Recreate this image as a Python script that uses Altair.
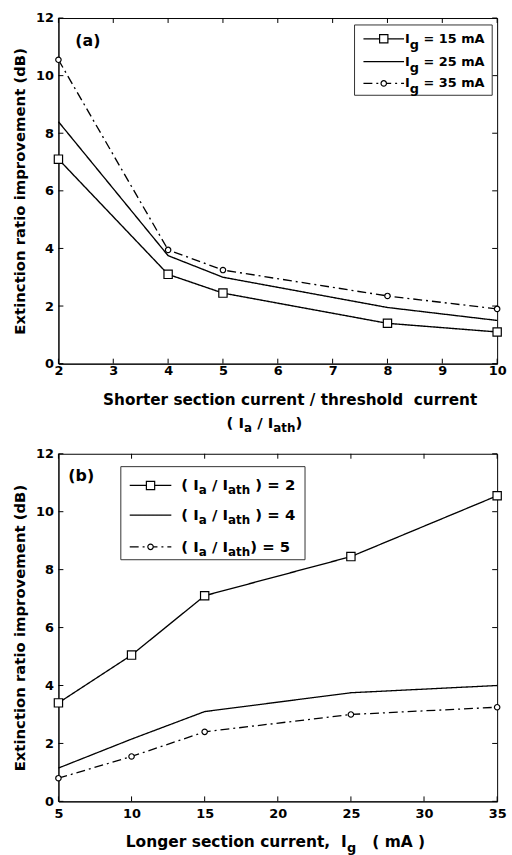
import altair as alt
import pandas as pd

# ---------------- data ----------------
# (a) extinction ratio improvement vs Ia/Iath for three Ig values
ratio_x = [2, 4, 5, 8, 10]
er_ig15 = [7.1, 3.1, 2.45, 1.4, 1.1]
er_ig25 = [8.4, 3.75, 3.0, 1.95, 1.5]
er_ig35 = [10.55, 3.95, 3.25, 2.35, 1.9]

# (b) extinction ratio improvement vs Ig for three Ia/Iath values
ig_x = [5, 10, 15, 25, 35]
er_r2 = [3.4, 5.05, 7.1, 8.45, 10.55]
er_r4 = [1.15, 2.15, 3.1, 3.75, 4.0]
er_r5 = [0.8, 1.55, 2.4, 3.0, 3.25]

ticks_a_x = [2, 3, 4, 5, 6, 7, 8, 9, 10]
ticks_b_x = [5, 10, 15, 20, 25, 30, 35]
ticks_y = [0, 2, 4, 6, 8, 10, 12]

FONT = "DejaVu Sans"
W_A, H_A = 443, 349
W_B, H_B = 443, 351
SPACES = " \u00a0"

# approximate advance widths (em) of DejaVu Sans Bold, used to lay out
# labels that contain subscripts
ADV = {" ": 0.348, "\u00a0": 0.348, "(": 0.457, ")": 0.457, "/": 0.365,
       "=": 0.838, ",": 0.380, "I": 0.372, "a": 0.675, "t": 0.478,
       "h": 0.712, "g": 0.716, "m": 1.042, "A": 0.774, "L": 0.637,
       "o": 0.687, "n": 0.712, "e": 0.678, "r": 0.493, "s": 0.595,
       "c": 0.593, "i": 0.343, "u": 0.712, "S": 0.720, "d": 0.716,
       "l": 0.343}
for d in "0123456789":
    ADV[d] = 0.696


def text_width(s, size):
    return sum(ADV.get(ch, 0.6) for ch in s) * size


def rich(pieces, x0, y0, size, sub_size, sub_dy):
    """pieces: list of (text, is_subscript); returns rows for a text layer.
    Leading blanks are turned into an x advance, since they are not drawn."""
    rows, x = [], x0
    for txt, sub in pieces:
        sz = sub_size if sub else size
        body = txt.lstrip(SPACES)
        x += text_width(txt[: len(txt) - len(body)], sz)
        rows.append({"txt": body, "px": x, "py": y0 + (sub_dy if sub else 0), "fs": sz})
        x += text_width(body, sz)
    return rows


def rich_width(pieces, size, sub_size):
    return sum(text_width(t, sub_size if s else size) for t, s in pieces)


def text_layer(rows):
    return alt.Chart(pd.DataFrame(rows)).mark_text(
        align="left", baseline="middle", font=FONT, fontWeight="bold", color="black"
    ).encode(
        x=alt.X("px:Q", scale=None, axis=None),
        y=alt.Y("py:Q", scale=None, axis=None),
        text="txt:N",
        size=alt.Size("fs:Q", scale=None, legend=None),
    )


def make_panel(xvals, series, names, dashes, widths, markers, xdom, xticks,
               W, H, ytitle, xlabel_pad, tag, tag_xy, legend_box, legend_rows,
               legend_x, extra_text):
    recs = []
    for name, ys in zip(names, series):
        for xv, yv in zip(xvals, ys):
            recs.append({"x": xv, "y": yv, "s": name})
    df = pd.DataFrame(recs)

    xaxis = alt.Axis(values=xticks, title=None, labelFlush=False,
                     labelOverlap=False, labelPadding=xlabel_pad)
    yaxis = alt.Axis(values=ticks_y, title=ytitle, labelOverlap=False)
    xs = alt.Scale(domain=xdom, nice=False, zero=False)
    ys = alt.Scale(domain=[0, 12], nice=False, zero=False)

    def X(f):
        return alt.X(f, scale=xs, axis=xaxis)

    def Y(f):
        return alt.Y(f, scale=ys, axis=yaxis)

    dash_scale = alt.Scale(domain=names, range=dashes)
    width_scale = alt.Scale(domain=names, range=widths)

    base = alt.Chart(df)
    lines = base.mark_line(color="black").encode(
        x=X("x:Q"), y=Y("y:Q"),
        detail="s:N",
        strokeDash=alt.StrokeDash("s:N", scale=dash_scale, legend=None),
        strokeWidth=alt.StrokeWidth("s:N", scale=width_scale, legend=None),
    )
    layers = [lines]
    for name, mk in zip(names, markers):
        if mk is None:
            continue
        shape, size = mk
        layers.append(
            base.transform_filter(alt.datum.s == name)
            .mark_point(shape=shape, size=size, filled=True, fill="white",
                        stroke="black", strokeWidth=1.2, opacity=1)
            .encode(x=X("x:Q"), y=Y("y:Q"))
        )

    # inward ticks on all four sides
    tx = alt.Chart(pd.DataFrame({"t": xticks}))
    ty = alt.Chart(pd.DataFrame({"t": ticks_y}))
    rule = dict(color="black", strokeWidth=1)
    layers += [
        tx.mark_rule(**rule).encode(x=X("t:Q"), y=alt.value(H), y2=alt.value(H - 5)),
        tx.mark_rule(**rule).encode(x=X("t:Q"), y=alt.value(0), y2=alt.value(5)),
        ty.mark_rule(**rule).encode(y=Y("t:Q"), x=alt.value(0), x2=alt.value(5)),
        ty.mark_rule(**rule).encode(y=Y("t:Q"), x=alt.value(W), x2=alt.value(W - 5)),
    ]

    # legend box
    bx0, by0, bx1, by1 = legend_box
    layers.append(
        alt.Chart(pd.DataFrame({"a": [0]})).mark_rect(
            fill="white", stroke="#333333", strokeWidth=1
        ).encode(x=alt.value(bx0), x2=alt.value(bx1), y=alt.value(by0), y2=alt.value(by1))
    )
    lx0, lx1 = legend_x
    leg = pd.DataFrame({
        "s": names,
        "x0": [lx0] * len(names),
        "x1": [lx1] * len(names),
        "xm": [(lx0 + lx1) / 2] * len(names),
        "yy": [r[0] for r in legend_rows],
    })
    lb = alt.Chart(leg)
    layers.append(
        lb.mark_rule(color="black").encode(
            x=alt.X("x0:Q", scale=None, axis=None),
            x2="x1:Q",
            y=alt.Y("yy:Q", scale=None, axis=None),
            strokeDash=alt.StrokeDash("s:N", scale=dash_scale, legend=None),
            strokeWidth=alt.StrokeWidth("s:N", scale=width_scale, legend=None),
        )
    )
    for name, mk in zip(names, markers):
        if mk is None:
            continue
        shape, size = mk
        layers.append(
            lb.transform_filter(alt.datum.s == name)
            .mark_point(shape=shape, size=size, filled=True, fill="white",
                        stroke="black", strokeWidth=1.2, opacity=1)
            .encode(x=alt.X("xm:Q", scale=None, axis=None),
                    y=alt.Y("yy:Q", scale=None, axis=None))
        )
    txt_rows = []
    for r in legend_rows:
        txt_rows += r[1]
    txt_rows += extra_text
    txt_rows.append({"txt": tag, "px": tag_xy[0], "py": tag_xy[1], "fs": 16})
    layers.append(text_layer(txt_rows))

    return alt.layer(*layers).properties(width=W, height=H)


# ---------------- panel (a) ----------------
names_a = ["Ig15", "Ig25", "Ig35"]
leg_a_rows = []
for yy, val in zip([21, 44, 66], ["15", "25", "35"]):
    leg_a_rows.append((yy, rich([("I", False), ("g", True), ("\u00a0= " + val + " mA", False)],
                                350, yy, 13, 13, 6)))

title_a1 = "Shorter section current / threshold\u00a0\u00a0current"
xt_a = [{"txt": title_a1, "px": 234 - text_width(title_a1, 15.4) / 2, "py": 386, "fs": 15.4}]
line2 = [("(\u00a0I", False), ("a", True), ("\u00a0/\u00a0I", False), ("ath", True), (")", False)]
xt_a += rich(line2, 208 - rich_width(line2, 15, 12) / 2, 409, 15, 12, 5)

panel_a = make_panel(
    ratio_x, [er_ig15, er_ig25, er_ig35], names_a,
    dashes=[[1, 0], [1, 0], [9, 4, 2, 4]],
    widths=[1.4, 1.3, 1.2],
    markers=[("square", 70), None, ("circle", 30)],
    xdom=[2, 10], xticks=ticks_a_x, W=W_A, H=H_A,
    ytitle="Extinction ratio improvement (dB)", xlabel_pad=1,
    tag="(a)", tag_xy=(17, 23),
    legend_box=(299, 7, 438, 78), legend_rows=leg_a_rows, legend_x=(308, 349),
    extra_text=xt_a,
)

# ---------------- panel (b) ----------------
names_b = ["r2", "r4", "r5"]
leg_b_rows = []
for yy, suffix in zip([32, 62, 94], ["\u00a0)\u00a0=\u00a02", "\u00a0)\u00a0=\u00a04", ")\u00a0=\u00a05"]):
    leg_b_rows.append((yy, rich([("(\u00a0I", False), ("a", True), ("\u00a0/\u00a0I", False),
                                 ("ath", True), (suffix, False)], 124, yy, 15, 12, 5)))

xt_b = rich([("Longer section current,\u00a0\u00a0I", False), ("g", True),
             ("\u00a0\u00a0\u00a0( mA )", False)], 68, 392, 15.6, 13, 6)

panel_b = make_panel(
    ig_x, [er_r2, er_r4, er_r5], names_b,
    dashes=[[1, 0], [1, 0], [9, 4, 2, 4]],
    widths=[1.4, 1.4, 1.8],
    markers=[("square", 70), None, ("circle", 30)],
    xdom=[5, 35], xticks=ticks_b_x, W=W_B, H=H_B,
    ytitle="Extinction ratio improvement (dB)", xlabel_pad=6,
    tag="(b)", tag_xy=(10, 23),
    legend_box=(63, 13, 249, 107), legend_rows=leg_b_rows, legend_x=(72, 114),
    extra_text=xt_b,
)

chart = alt.vconcat(panel_a, panel_b, spacing=12).properties(
    padding={"left": 12, "top": 7, "right": 5, "bottom": 0},
    background="white",
).configure_axis(
    labelFont=FONT, labelFontWeight="bold", labelFontSize=13, labelColor="black",
    labelPadding=5, titleFont=FONT, titleFontSize=15, titleFontWeight="bold",
    titleColor="black", titlePadding=8, domainColor="black", domainWidth=1,
    grid=False, ticks=False, tickSize=0,
).configure_view(stroke="black", strokeWidth=1)

chart.save("out.html", embed_options={"renderer": "svg", "actions": False})
